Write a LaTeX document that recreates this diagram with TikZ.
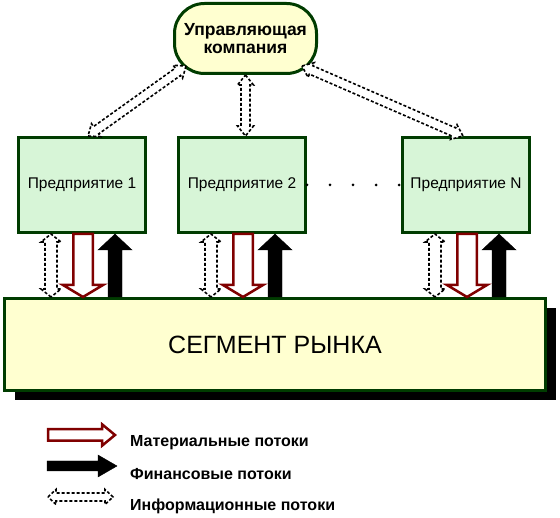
\documentclass[tikz,border=0pt]{standalone}
\usepackage{fontspec}
\setmainfont{Liberation Sans}
\usetikzlibrary{calc,shadows}
\definecolor{dkgreen}{RGB}{0,60,0}
\definecolor{firmfill}{RGB}{215,245,215}
\definecolor{segfill}{RGB}{255,255,208}
\definecolor{matred}{RGB}{128,0,0}

\newcommand\flowarrow[6]{%
  \coordinate (fa-h) at ($(#3)!#6!(#2)$);
  \draw[#1] ($(#2)!#4!90:(#3)$) -- ($(fa-h)!#4!90:(#3)$) -- ($(fa-h)!#5!90:(#3)$) -- (#3)
    -- ($(fa-h)!#5!-90:(#3)$) -- ($(fa-h)!#4!-90:(#3)$) -- ($(#2)!#4!-90:(#3)$) -- cycle;}
\newcommand\infoarrow[5]{%
  \coordinate (ia-a) at ($(#1)!#5!(#2)$);
  \coordinate (ia-b) at ($(#2)!#5!(#1)$);
  \draw[info] (#1) -- ($(ia-a)!#4!90:(#2)$) -- ($(ia-a)!#3!90:(#2)$) -- ($(ia-b)!#3!90:(#2)$)
    -- ($(ia-b)!#4!90:(#2)$) -- (#2) -- ($(ia-b)!#4!-90:(#2)$) -- ($(ia-b)!#3!-90:(#2)$)
    -- ($(ia-a)!#3!-90:(#2)$) -- ($(ia-a)!#4!-90:(#2)$) -- cycle;}

\begin{document}
\begin{tikzpicture}[x=1pt,y=-1pt,
  firm/.style={draw=dkgreen,line width=3pt,fill=firmfill,minimum width=127pt,minimum height=95pt,font=\fontsize{15.5}{18}\selectfont},
  ctrl/.style={draw=dkgreen,line width=3pt,fill=segfill,rounded corners=30pt,minimum width=142pt,minimum height=70pt,inner sep=0pt,align=center,font=\bfseries\fontsize{17.5}{18}\selectfont},
  market/.style={draw=dkgreen,line width=3pt,fill=segfill,minimum width=541pt,minimum height=92pt,font=\fontsize{25}{28}\selectfont,
    drop shadow={shadow xshift=10pt,shadow yshift=-10pt,opacity=1,fill=black}},
  matflow/.style={draw=matred,line width=2.5pt,fill=white},
  finflow/.style={fill=black},
  info/.style={draw,line width=1.6pt,dash pattern=on 3pt off 2pt,fill=white},
  legend/.style={anchor=base west,inner sep=0pt,font=\bfseries\fontsize{16}{18}\selectfont}]
\useasboundingbox (0,0) rectangle (560,518);
\node[ctrl] (uk) at (245.5,38.5) {Управляющая\\компания};
\node[firm] (p1) at (82,185) {Предприятие 1};
\node[firm] (p2) at (242,185) {Предприятие 2};
\node[firm] (pn) at (466,185) {Предприятие N};
\node[market] (seg) at (275,344.5) {СЕГМЕНТ РЫНКА};
\draw[line width=3pt,line cap=round,dash pattern=on 0pt off 23pt] (p2.east) -- (pn.west);
\coordinate (uk-l) at ($(uk.south west)+(13,-9)$);
\coordinate (uk-r) at ($(uk.south east)+(-16,-9)$);
\coordinate (p1-t) at ($(p1.north)+(6,0)$);
\coordinate (p2-t) at (uk.south |- p2.north);
\coordinate (pn-t) at ($(pn.north)+(-3,0)$);
\infoarrow{uk-l}{p1-t}{4.5pt}{8pt}{10pt}
\infoarrow{uk.south}{p2-t}{4.5pt}{8pt}{10pt}
\infoarrow{uk-r}{pn-t}{4.5pt}{8pt}{10pt}
\foreach \b in {p1,p2,pn}{
  \coordinate (\b-it) at ($(\b.south)+(-31,0)$);
  \coordinate (\b-ib) at (\b-it |- seg.north);
  \coordinate (\b-mt) at ($(\b.south)+(1,0)$);
  \coordinate (\b-mb) at (\b-mt |- seg.north);
  \coordinate (\b-ft) at ($(\b.south)+(33,0)$);
  \coordinate (\b-fb) at (\b-ft |- seg.north);
  \infoarrow{\b-ib}{\b-it}{6pt}{10pt}{8pt}
  \flowarrow{matflow}{\b-mt}{\b-mb}{9.75pt}{20pt}{12pt}
  \flowarrow{finflow}{\b-fb}{\b-ft}{7pt}{17pt}{16pt}
}
\coordinate (lm-a) at (48,435);
\coordinate (lm-b) at (115,435);
\coordinate (lf-a) at (47,466);
\coordinate (lf-b) at (117,466);
\coordinate (li-a) at (48,497);
\coordinate (li-b) at (113,497);
\flowarrow{matflow}{lm-a}{lm-b}{5.75pt}{10.75pt}{13pt}
\flowarrow{finflow}{lf-a}{lf-b}{5pt}{11pt}{19pt}
\infoarrow{li-a}{li-b}{4pt}{7.5pt}{8pt}
\node[legend] (lm) at (130,447) {Материальные потоки};
\node[legend] (lf) at (130,480) {Финансовые потоки};
\node[legend] (li) at (130,511) {Информационные потоки};
\end{tikzpicture}
\end{document}
